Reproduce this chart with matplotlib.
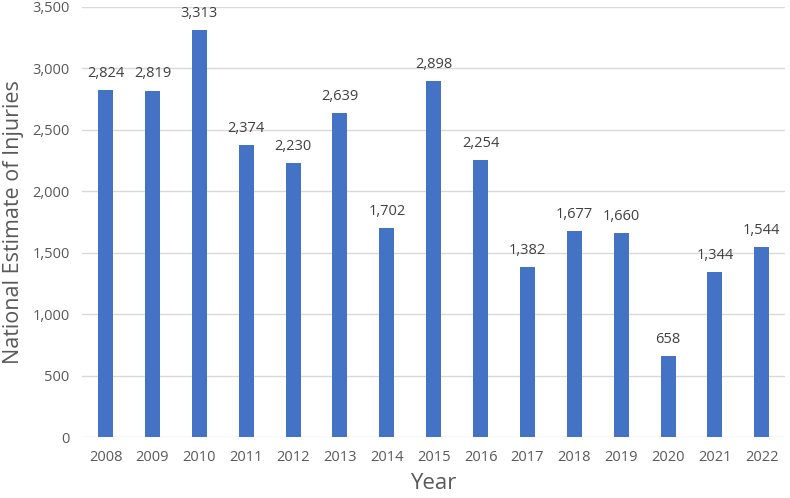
import matplotlib
matplotlib.use("Agg")
import matplotlib.pyplot as plt
import numpy as np

plt.rcParams.update({"font.family": ["Open Sans", "DejaVu Sans"]})

BLUE = "#4472C4"; GRAY = "#595959"; GRID = "#D9D9D9"

years = ["2008", "2009", "2010", "2011", "2012", "2013", "2014", "2015",
         "2016", "2017", "2018", "2019", "2020", "2021", "2022"]
injuries = [2824, 2819, 3313, 2374, 2230, 2639, 1702, 2898,
            2254, 1382, 1677, 1660, 658, 1344, 1544]

x = np.arange(len(years))
fig = plt.figure(figsize=(7.9, 4.98), dpi=100)
ax = fig.add_axes([0.104, 0.122, 0.890, 0.864])
ax.bar(x, injuries, 0.32, color=BLUE, zorder=3)
for xi, v in zip(x, injuries):
    ax.text(xi, v + 75, f"{v:,}", ha="center", va="bottom", fontsize=10.5, color="#404040")

ax.set_xlim(-0.5, len(years) - 0.5)
ax.set_ylim(0, 3500)
ax.set_yticks(np.arange(0, 3501, 500))
ax.set_yticklabels([f"{t:,}" for t in range(0, 3501, 500)])
ax.set_xticks(x); ax.set_xticklabels(years)
ax.tick_params(length=0, labelsize=10.5, colors=GRAY, pad=9)
ax.grid(True, axis="y", color=GRID, linewidth=1, zorder=0)
for s in ax.spines.values():
    s.set_visible(False)
ax.set_ylabel("National Estimate of Injuries", fontsize=15.5, color=GRAY, labelpad=6)
ax.set_xlabel("Year", fontsize=16, color=GRAY, labelpad=6)

fig.savefig("out.png", dpi=100)
